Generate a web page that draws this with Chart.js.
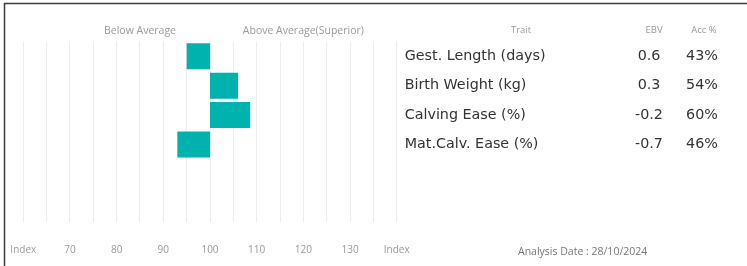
<!DOCTYPE html>
<html><head><meta charset="utf-8">
<script src="https://cdn.jsdelivr.net/npm/chart.js@4"></script>
<style>html,body{margin:0;padding:0;background:#fff}#wrap{width:747px;height:266px;position:relative}</style>
</head><body><div id="wrap"><canvas id="c" width="747" height="266"></canvas></div>
<script>
// ---- data ----
const traits = ['Gest. Length (days)', 'Birth Weight (kg)', 'Calving Ease (%)', 'Mat.Calv. Ease (%)'];
const ebv = ['0.6', '0.3', '-0.2', '-0.7'];
const acc = ['43%', '54%', '60%', '46%'];
const indexValues = [95, 106, 108.6, 93];
const baseIndex = 100;
const emptyRows = ['', ''];
const xTickValues = [60, 65, 70, 75, 80, 85, 90, 95, 100, 105, 110, 115, 120, 125, 130, 135, 140];
const xEndLabel = 'Index';
const topTickValues = [85, 120];
const topTickLabels = ['Below Average', 'Above Average(Superior)'];
const headerLabels = ['Trait', 'EBV', 'Acc %'];
const analysisDate = 'Analysis Date : 28/10/2024';

const decor = {
  id: 'decor',
  afterDraw(chart) {
    const { ctx } = chart;
    const y = chart.scales.y;
    ctx.save();
    ctx.strokeStyle = '#3c3c3c'; ctx.lineWidth = 1.5;
    ctx.beginPath(); ctx.moveTo(4.5, 266); ctx.lineTo(4.5, 3.5); ctx.lineTo(747, 3.5); ctx.stroke();
    ctx.textBaseline = 'middle'; ctx.textAlign = 'center';
    ctx.fillStyle = '#9a9a9a'; ctx.font = '9.5px "Open Sans"';
    const hx = [521, 654, 704];
    headerLabels.forEach((h, i) => ctx.fillText(h, hx[i], 30));
    ctx.fillStyle = '#333'; ctx.font = '14.3px "DejaVu Sans"';
    traits.forEach((t, i) => {
      const py = y.getPixelForValue(i);
      ctx.fillText(ebv[i], 649, py);
      ctx.fillText(acc[i], 702, py);
    });
    ctx.fillStyle = '#777'; ctx.font = '10.5px "Open Sans"'; ctx.textAlign = 'left';
    ctx.fillText(analysisDate, 518, 252);
    ctx.restore();
  }
};

new Chart(document.getElementById('c'), {
  type: 'bar',
  data: {
    labels: traits.concat(emptyRows),
    datasets: [{
      data: indexValues.map(v => [Math.min(baseIndex, v), Math.max(baseIndex, v)]),
      backgroundColor: '#00b2ae',
      borderWidth: 0,
      borderSkipped: false,
      barPercentage: 0.885,
      categoryPercentage: 1
    }]
  },
  plugins: [decor],
  options: {
    indexAxis: 'y',
    responsive: false,
    animation: false,
    devicePixelRatio: 1,
    layout: { padding: { left: 23.3, top: 0, right: 0, bottom: 0 } },
    plugins: { legend: { display: false }, tooltip: { enabled: false } },
    scales: {
      x: {
        type: 'linear', position: 'bottom', min: 60, max: 140,
        afterBuildTicks(s) { s.ticks = xTickValues.map(v => ({ value: v })); },
        ticks: {
          autoSkip: false, maxRotation: 0, padding: 22, color: '#9a9a9a',
          font: { family: 'Open Sans', size: 10 },
          callback(v) {
            if (v === xTickValues[0] || v === xTickValues[xTickValues.length - 1]) return xEndLabel;
            return v % 10 === 0 ? String(v) : '';
          }
        },
        grid: { color: '#ededed', lineWidth: 1, drawTicks: true, tickLength: 4 },
        border: { display: false },
        afterFit(s) { s.height = 48; s.paddingLeft = 0; s.paddingRight = 0; }
      },
      xTop: {
        type: 'linear', position: 'top', min: 60, max: 140,
        afterBuildTicks(s) { s.ticks = topTickValues.map(v => ({ value: v })); },
        ticks: {
          autoSkip: false, maxRotation: 0, padding: 4, color: '#9a9a9a',
          font: { family: 'Open Sans', size: 10.5 },
          callback(v) { return topTickLabels[topTickValues.indexOf(v)]; }
        },
        grid: { display: false, drawTicks: false },
        border: { display: false },
        afterFit(s) { s.height = 41.6; s.paddingLeft = 0; s.paddingRight = 0; }
      },
      y: {
        type: 'category', position: 'right', offset: true,
        grid: { display: false, drawTicks: false },
        border: { display: false },
        ticks: { crossAlign: 'near', padding: 8, color: '#333', font: { family: 'DejaVu Sans', size: 14.3 } },
        afterFit(s) { s.width = 747 - 396.7; }
      }
    }
  }
});
</script></body></html>
